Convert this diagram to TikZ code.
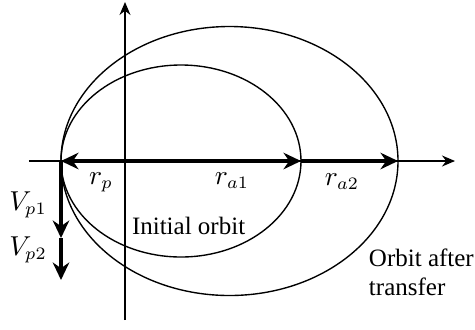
\documentclass[tikz,border=0pt]{standalone}
\usepackage{amsmath,amssymb}
\usepackage{fontspec}
\setmainfont{Liberation Serif}
\usepackage{tikz}
\usetikzlibrary{arrows.meta,positioning}

\begin{document}
\begin{tikzpicture}[
    x=0.4pt, y=-0.4pt,
    axis/.style={-{Stealth[length=5.2pt,width=4.4pt]}, line width=0.5pt},
    orbit/.style={line width=0.55pt},
    tip/.tip={Stealth[length=7pt,width=6.6pt]},
    vec/.style={-tip, line width=1.3pt},
    lbl/.style={inner sep=1pt, font=\fontsize{10.5}{12}\selectfont},
    txt/.style={inner sep=1pt, anchor=west, align=left, font=\fontsize{10}{11.5}\selectfont}
]
    \useasboundingbox (0,0) rectangle (475,329);
    % points on the line of apsides
    \coordinate (xl) at (29,161);
    \coordinate (xr) at (455,161);
    \coordinate (yb) at (125,320);
    \coordinate (yt) at (125,2);
    \coordinate (peri) at (61,161);
    \coordinate (apo1) at (301,161);
    \coordinate (apo2) at (398,161);
    \coordinate (vp1) at (61,238);
    \coordinate (vp2) at (61,280);

    % axes
    \draw[axis] (xl) -- (xr);
    \draw[axis] (yb) -- (yt);

    % orbits
    \draw[orbit] (181,161) ellipse [x radius=120, y radius=96];
    \draw[orbit] (229.5,161) ellipse [x radius=168.5, y radius=134.5];

    % radii and velocities
    \draw[vec, tip-tip] (peri) -- (apo1);
    \draw[vec] (apo1) -- (apo2);
    \draw[vec] (peri) -- (vp1);
    \draw[vec] (vp1) -- (vp2);

    % labels
    \node[lbl] (rp) at (101,182) {$r_p$};
    \node[lbl] (ra1) at (232,181) {$r_{a1}$};
    \node[lbl] (ra2) at (342,182) {$r_{a2}$};
    \node[lbl] (v1) at (28,205) {$V_{p1}$};
    \node[lbl] (v2) at (28,250) {$V_{p2}$};
    \node[txt] (init) at (129,226) {Initial orbit};
    \node[txt] (after) at (366,272) {Orbit after\\transfer};
\end{tikzpicture}
\end{document}
